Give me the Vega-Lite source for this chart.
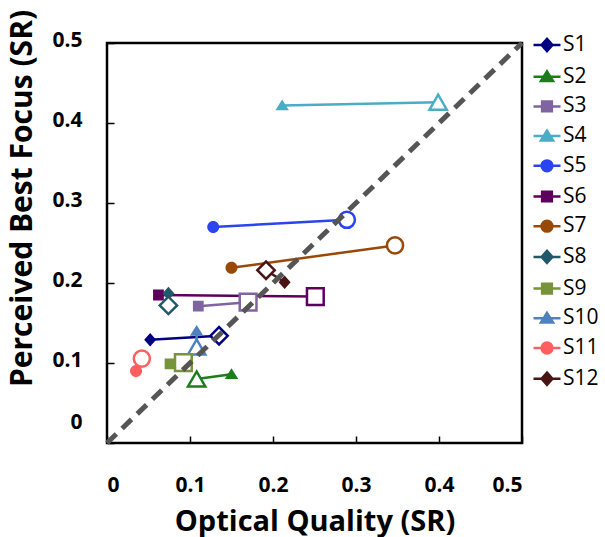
{
  "$schema": "https://vega.github.io/schema/vega-lite/v6.json",
  "width": 415,
  "height": 400,
  "autosize": "none",
  "padding": {"left": 107, "top": 43, "right": 83, "bottom": 94},
  "background": "white",
  "config": {
    "view": {"stroke": "black", "strokeWidth": 2.5},
    "font": "Open Sans",
    "axis": {
      "grid": false,
      "domain": false,
      "tickColor": "black",
      "tickWidth": 1.5,
      "tickSize": -7,
      "labelFont": "Open Sans",
      "labelFontWeight": "bold",
      "labelFontSize": 21,
      "labelColor": "black",
      "titleFont": "Open Sans",
      "titleFontWeight": "bold",
      "titleColor": "black"
    },
    "legend": {
      "symbolSize": 729,
      "symbolStrokeWidth": 2.5,
      "symbolOpacity": 1,
      "labelFont": "Open Sans",
      "labelFontSize": 21,
      "labelColor": "black",
      "labelOffset": 1,
      "padding": 0
    }
  },
  "data": {
    "values": [
      {"subject": "S1", "oq": 0.052, "pbf": 0.129, "kind": "filled"},
      {"subject": "S1", "oq": 0.135, "pbf": 0.134, "kind": "open"},
      {"subject": "S2", "oq": 0.150, "pbf": 0.086, "kind": "filled"},
      {"subject": "S2", "oq": 0.108, "pbf": 0.080, "kind": "open"},
      {"subject": "S3", "oq": 0.110, "pbf": 0.171, "kind": "filled"},
      {"subject": "S3", "oq": 0.170, "pbf": 0.176, "kind": "open"},
      {"subject": "S4", "oq": 0.211, "pbf": 0.422, "kind": "filled"},
      {"subject": "S4", "oq": 0.399, "pbf": 0.426, "kind": "open"},
      {"subject": "S5", "oq": 0.128, "pbf": 0.270, "kind": "filled"},
      {"subject": "S5", "oq": 0.289, "pbf": 0.279, "kind": "open"},
      {"subject": "S6", "oq": 0.062, "pbf": 0.185, "kind": "filled"},
      {"subject": "S6", "oq": 0.251, "pbf": 0.183, "kind": "open"},
      {"subject": "S7", "oq": 0.150, "pbf": 0.219, "kind": "filled"},
      {"subject": "S7", "oq": 0.347, "pbf": 0.247, "kind": "open"},
      {"subject": "S8", "oq": 0.074, "pbf": 0.187, "kind": "filled"},
      {"subject": "S8", "oq": 0.074, "pbf": 0.172, "kind": "open"},
      {"subject": "S9", "oq": 0.076, "pbf": 0.099, "kind": "filled"},
      {"subject": "S9", "oq": 0.092, "pbf": 0.1005, "kind": "open"},
      {"subject": "S10", "oq": 0.108, "pbf": 0.140, "kind": "filled"},
      {"subject": "S10", "oq": 0.108, "pbf": 0.120, "kind": "open"},
      {"subject": "S11", "oq": 0.035, "pbf": 0.090, "kind": "filled"},
      {"subject": "S11", "oq": 0.042, "pbf": 0.1055, "kind": "open"},
      {"subject": "S12", "oq": 0.214, "pbf": 0.201, "kind": "filled"},
      {"subject": "S12", "oq": 0.1916, "pbf": 0.216, "kind": "open"}
    ]
  },
  "encoding": {
    "x": {
      "field": "oq", "type": "quantitative",
      "scale": {"domain": [0, 0.5], "nice": false, "zero": false},
      "axis": {
        "values": [0, 0.1, 0.2, 0.3, 0.4, 0.5],
        "format": "~g",
        "labelPadding": 38,
        "title": "Optical Quality (SR)",
        "titleFontSize": 29,
        "titleY": 78,
        "titleBaseline": "middle"
      }
    },
    "y": {
      "field": "pbf", "type": "quantitative",
      "scale": {"domain": [0, 0.5], "nice": false, "zero": false},
      "axis": {
        "values": [0, 0.1, 0.2, 0.3, 0.4, 0.5],
        "format": "~g",
        "labelPadding": 32,
        "labelOffset": {"condition": {"test": "datum.value === 0", "value": -21}, "value": -3},
        "title": "Perceived Best Focus  (SR)",
        "titleFontSize": 30,
        "titleX": -85,
        "titleY": 155,
        "titleAngle": -90,
        "titleAlign": "center",
        "titleBaseline": "middle"
      }
    },
    "color": {
      "field": "subject", "type": "nominal",
      "scale": {
        "domain": ["S1","S2","S3","S4","S5","S6","S7","S8","S9","S10","S11","S12"],
        "range": ["#000080","#1b7d1b","#8064A2","#4BACC6","#2a44f0","#5c005c","#984807","#215968","#77933C","#4F81BD","#ff5f5f","#4a1414"]
      },
      "legend": {"title": null, "orient": "none", "legendX": 425, "legendY": -13, "rowPadding": 4.7}
    }
  },
  "layer": [
    {
      "mark": {"type": "line", "strokeWidth": 2.5},
      "encoding": {"order": {"field": "oq", "type": "quantitative"}}
    },
    {
      "transform": [{"filter": "datum.kind === 'filled'"}],
      "mark": {"type": "point", "filled": true, "opacity": 1, "size": 900},
      "encoding": {
        "shape": {
          "field": "subject", "type": "nominal",
          "scale": {
            "domain": ["S1","S2","S3","S4","S5","S6","S7","S8","S9","S10","S11","S12"],
            "range": [
              "M-1,0H1M0,-0.45L0.4,0L0,0.45L-0.4,0Z",
              "M-1,0H1M0,-0.4L0.45,0.32L-0.45,0.32Z",
              "M-1,0H1M-0.36,-0.36H0.36V0.36H-0.36Z",
              "M-1,0H1M0,-0.4L0.45,0.32L-0.45,0.32Z",
              "M-1,0H1M-0.4,0A0.4,0.4,0,1,1,0.4,0A0.4,0.4,0,1,1,-0.4,0Z",
              "M-1,0H1M-0.36,-0.36H0.36V0.36H-0.36Z",
              "M-1,0H1M-0.4,0A0.4,0.4,0,1,1,0.4,0A0.4,0.4,0,1,1,-0.4,0Z",
              "M-1,0H1M0,-0.45L0.4,0L0,0.45L-0.4,0Z",
              "M-1,0H1M-0.36,-0.36H0.36V0.36H-0.36Z",
              "M-1,0H1M0,-0.4L0.45,0.32L-0.45,0.32Z",
              "M-1,0H1M-0.4,0A0.4,0.4,0,1,1,0.4,0A0.4,0.4,0,1,1,-0.4,0Z",
              "M-1,0H1M0,-0.45L0.4,0L0,0.45L-0.4,0Z"
            ]
          },
          "legend": {"title": null, "orient": "none", "legendX": 425, "legendY": -13, "rowPadding": 4.7}
        },
        "stroke": {
          "field": "subject", "type": "nominal",
          "scale": {
            "domain": ["S1","S2","S3","S4","S5","S6","S7","S8","S9","S10","S11","S12"],
            "range": ["#000080","#1b7d1b","#8064A2","#4BACC6","#2a44f0","#5c005c","#984807","#215968","#77933C","#4F81BD","#ff5f5f","#4a1414"]
          },
          "legend": {"title": null, "orient": "none", "legendX": 425, "legendY": -13, "rowPadding": 4.7}
        },
        "strokeWidth": {"value": 0}
      }
    },
    {
      "transform": [{"filter": "datum.kind === 'open' && (datum.subject === 'S1' || datum.subject === 'S8' || datum.subject === 'S12')"}],
      "mark": {"type": "point", "shape": "diamond", "filled": false, "fill": "white", "opacity": 1, "size": 300, "strokeWidth": 2.5}
    },
    {
      "transform": [{"filter": "datum.kind === 'open' && (datum.subject === 'S2' || datum.subject === 'S4' || datum.subject === 'S10')"}],
      "mark": {"type": "point", "shape": "triangle-up", "filled": false, "fill": "white", "opacity": 1, "size": 300, "strokeWidth": 2.5}
    },
    {
      "transform": [{"filter": "datum.kind === 'open' && (datum.subject === 'S3' || datum.subject === 'S6' || datum.subject === 'S9')"}],
      "mark": {"type": "point", "shape": "square", "filled": false, "fill": "white", "opacity": 1, "size": 280, "strokeWidth": 2.5}
    },
    {
      "transform": [{"filter": "datum.kind === 'open' && (datum.subject === 'S5' || datum.subject === 'S7' || datum.subject === 'S11')"}],
      "mark": {"type": "point", "shape": "circle", "filled": false, "fill": "white", "opacity": 1, "size": 260, "strokeWidth": 2.5}
    },
    {
      "data": {"values": [{"oq": 0, "pbf": 0}, {"oq": 0.5, "pbf": 0.5}]},
      "mark": {"type": "line", "color": "#555555", "strokeWidth": 5, "strokeDash": [13, 8]},
      "encoding": {"color": {"value": "#555555"}}
    }
  ]
}
